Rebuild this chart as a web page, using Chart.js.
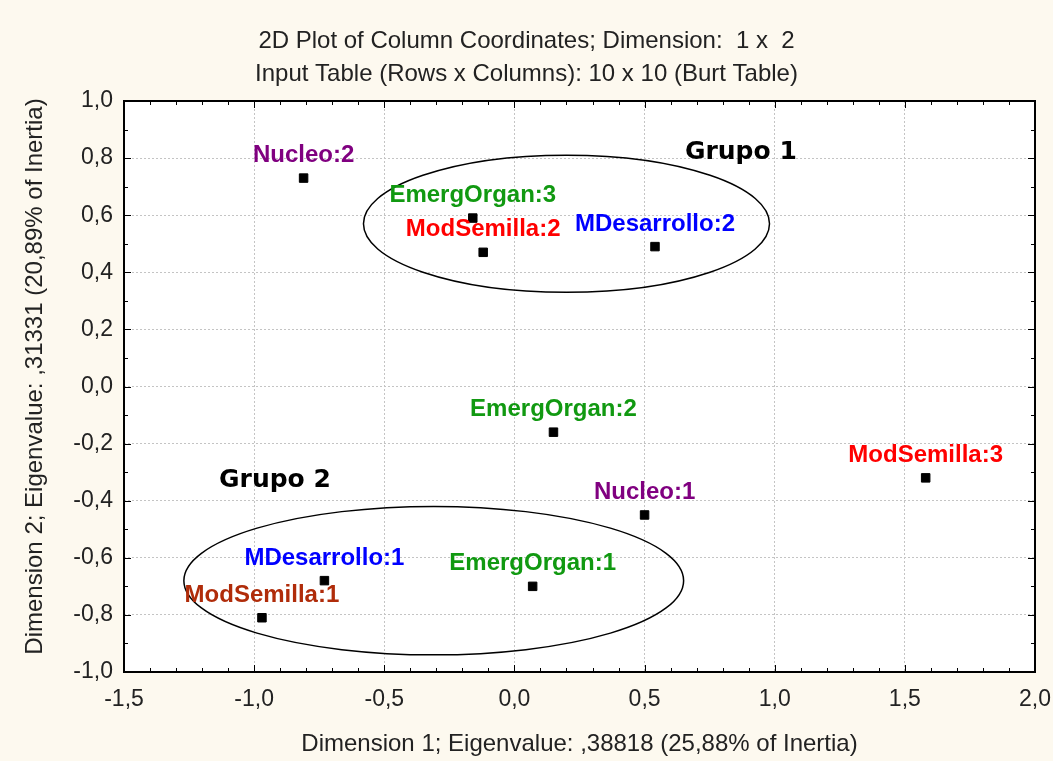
<!DOCTYPE html>
<html lang="en">
<head>
<meta charset="UTF-8">
<title>2D Plot of Column Coordinates</title>
<script src="https://cdn.jsdelivr.net/npm/chart.js"></script>
<style>
  html, body { margin: 0; padding: 0; background: #fdf9ef; }
  #wrap { width: 1053px; height: 761px; }
</style>
</head>
<body>
<div id="wrap"><canvas id="cc"></canvas></div>
<script>
// column coordinates (Burt table, dims 1 x 2)
const pointLabels = ['Nucleo:2', 'EmergOrgan:3', 'ModSemilla:2', 'MDesarrollo:2', 'EmergOrgan:2',
                     'ModSemilla:3', 'Nucleo:1', 'EmergOrgan:1', 'MDesarrollo:1', 'ModSemilla:1'];
const dim1 = [-0.81, -0.16, -0.12, 0.54, 0.15, 1.58, 0.50, 0.07, -0.73, -0.97];
const dim2 = [0.73, 0.59, 0.47, 0.49, -0.16, -0.32, -0.45, -0.70, -0.68, -0.81];
const labelColors = ['#800080', '#119911', '#ff0000', '#0000ff', '#119911',
                     '#ff0000', '#800080', '#119911', '#0000ff', '#b02c0a'];

// group annotations
const groupNames = ['Grupo 1', 'Grupo 2'];
const groupTextX = [0.87, -0.92];
const groupTextY = [0.82, -0.33];
const ellipseCx = [0.20, -0.31];
const ellipseCy = [0.57, -0.68];
const ellipseRx = [0.78, 0.96];
const ellipseRy = [0.24, 0.26];

const xTitle = 'Dimension 1; Eigenvalue: ,38818 (25,88% of Inertia)';
const yTitle = '   Dimension 2; Eigenvalue: ,31331 (20,89% of Inertia)';
const chartTitle = ['2D Plot of Column Coordinates; Dimension:  1 x  2',
                    'Input Table (Rows x Columns): 10 x 10 (Burt Table)'];

const FONT = "'Liberation Sans', Arial, sans-serif";
const fmt = v => Number(v).toFixed(1).replace('.', ',');

const decor = {
  id: 'decor',
  beforeDraw(chart) {
    const {ctx, chartArea: a} = chart;
    ctx.save();
    ctx.fillStyle = '#fdf9ef';
    ctx.fillRect(0, 0, chart.width, chart.height);
    ctx.fillStyle = '#ffffff';
    ctx.fillRect(a.left, a.top, a.right - a.left, a.bottom - a.top);
    ctx.restore();
  },
  beforeDatasetsDraw(chart) {
    const {ctx, scales: {x, y}} = chart;
    ctx.save();
    ctx.strokeStyle = '#000';
    ctx.lineWidth = 1.5;
    for (let i = 0; i < ellipseCx.length; i++) {
      const cx = x.getPixelForValue(ellipseCx[i]);
      const cy = y.getPixelForValue(ellipseCy[i]);
      const rx = x.getPixelForValue(ellipseCx[i] + ellipseRx[i]) - cx;
      const ry = cy - y.getPixelForValue(ellipseCy[i] + ellipseRy[i]);
      ctx.beginPath();
      ctx.ellipse(cx, cy, rx, ry, 0, 0, Math.PI * 2);
      ctx.stroke();
    }
    ctx.restore();
  },
  afterDatasetsDraw(chart) {
    const {ctx, scales: {x, y}} = chart;
    ctx.save();
    ctx.textAlign = 'center';
    ctx.textBaseline = 'alphabetic';
    ctx.font = 'bold 24px ' + FONT;
    pointLabels.forEach((t, i) => {
      ctx.fillStyle = labelColors[i];
      ctx.fillText(t, x.getPixelForValue(dim1[i]), y.getPixelForValue(dim2[i]) - 16);
    });
    ctx.fillStyle = '#000';
    ctx.textBaseline = 'middle';
    ctx.font = "bold 25px 'DejaVu Sans', sans-serif";
    groupNames.forEach((t, i) => {
      ctx.fillText(t, x.getPixelForValue(groupTextX[i]), y.getPixelForValue(groupTextY[i]));
    });
    ctx.restore();
  },
  afterDraw(chart) {
    const {ctx, chartArea: a, scales: {x, y}} = chart;
    ctx.save();
    ctx.strokeStyle = '#000';
    ctx.lineWidth = 1;
    ctx.beginPath();
    // inward ticks every 0.1, longer at labelled values
    for (let k = -15; k <= 20; k++) {
      const px = Math.round(x.getPixelForValue(k / 10)) + 0.5;
      const len = k % 5 === 0 ? 7 : 4;
      ctx.moveTo(px, a.bottom); ctx.lineTo(px, a.bottom - len);
      ctx.moveTo(px, a.top); ctx.lineTo(px, a.top + len);
    }
    for (let k = -10; k <= 10; k++) {
      const py = Math.round(y.getPixelForValue(k / 10)) + 0.5;
      const len = k % 2 === 0 ? 7 : 4;
      ctx.moveTo(a.left, py); ctx.lineTo(a.left + len, py);
      ctx.moveTo(a.right, py); ctx.lineTo(a.right - len, py);
    }
    ctx.stroke();
    ctx.lineWidth = 2;
    ctx.strokeRect(a.left, a.top, a.right - a.left, a.bottom - a.top);
    ctx.restore();
  }
};

new Chart(document.getElementById('cc'), {
  type: 'scatter',
  data: {
    datasets: [{
      data: dim1.map((v, i) => ({x: v, y: dim2[i]})),
      backgroundColor: '#000',
      borderColor: '#000',
      pointStyle: 'rect',
      pointRadius: 6,
      pointHoverRadius: 6
    }]
  },
  options: {
    responsive: true,
    maintainAspectRatio: false,
    animation: false,
    layout: { padding: { left: 0, right: 0, top: 0, bottom: 0 } },
    plugins: {
      legend: { display: false },
      tooltip: { enabled: false },
      title: {
        display: true,
        text: chartTitle,
        color: '#222',
        font: { family: FONT, size: 24, weight: 'normal', lineHeight: 1.375 },
        padding: { top: 24.5, bottom: 10.5 }
      }
    },
    scales: {
      x: {
        type: 'linear',
        min: -1.5,
        max: 2,
        ticks: { stepSize: 0.5, padding: 14, color: '#222', font: { family: FONT, size: 23 }, callback: fmt },
        grid: { color: '#c4c4c4', drawTicks: false },
        border: { display: false, dash: [2, 2] },
        title: { display: true, text: xTitle, color: '#222', font: { family: FONT, size: 24 }, padding: { top: 0, bottom: 2 } },
        afterFit: s => { s.height = 89; s.paddingRight = 18; }
      },
      y: {
        type: 'linear',
        min: -1,
        max: 1,
        ticks: { stepSize: 0.2, padding: 11, color: '#222', font: { family: FONT, size: 23 }, callback: fmt },
        grid: { color: '#c4c4c4', drawTicks: false },
        border: { display: false, dash: [2, 2] },
        title: { display: true, text: yTitle, color: '#222', font: { family: FONT, size: 24 }, padding: { top: 21, bottom: 0 } },
        afterFit: s => { s.width = 124; }
      }
    }
  },
  plugins: [decor]
});
</script>
</body>
</html>
